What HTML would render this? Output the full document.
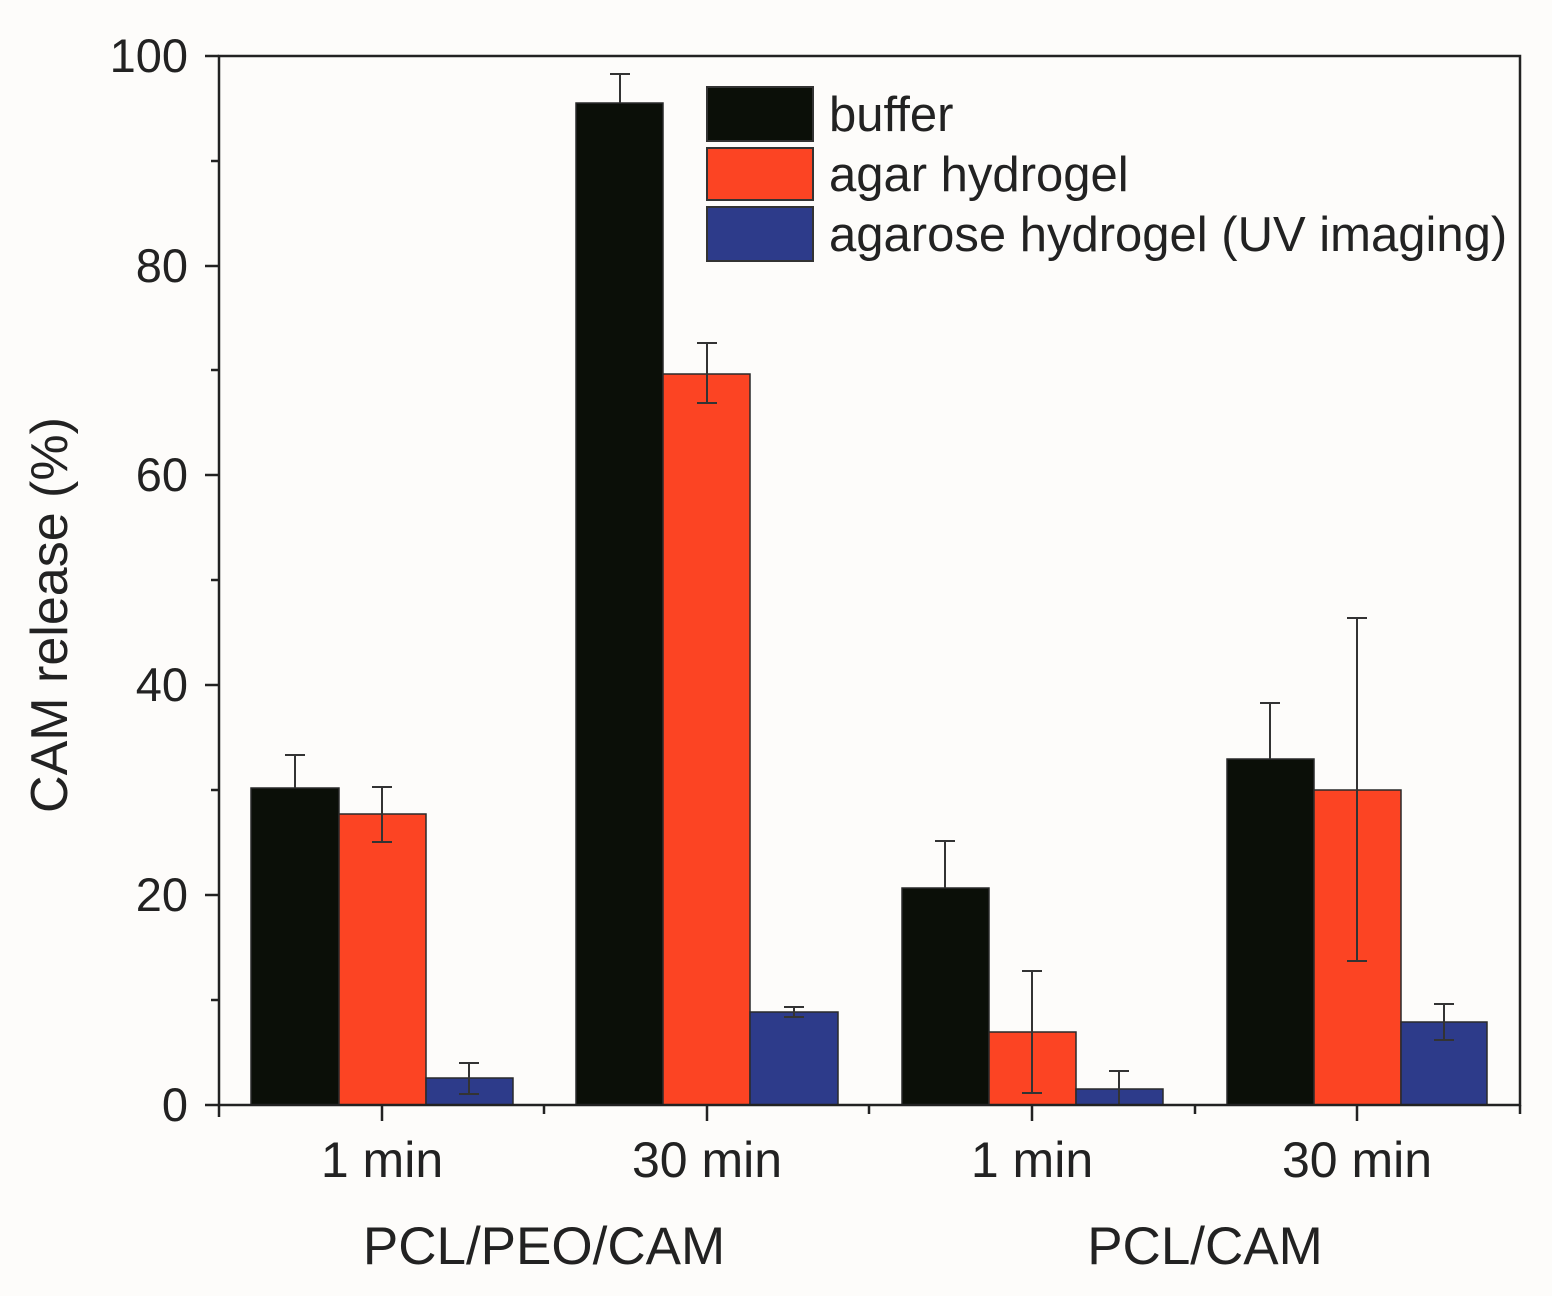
<!DOCTYPE html>
<html><head><meta charset="utf-8"><style>html,body{margin:0;padding:0;background:#fdfcfa;}svg{display:block}</style></head>
<body>
<svg width="1552" height="1296" viewBox="0 0 1552 1296" xmlns="http://www.w3.org/2000/svg" font-family="Liberation Sans, Arial, sans-serif" fill="#222">
<rect width="1552" height="1296" fill="#fdfcfa"/>
<g stroke="#2a2a2a" stroke-width="1.5">
<rect x="251" y="788" width="88" height="317" fill="#0b0f08"/>
<rect x="339" y="814" width="87" height="291" fill="#fc4423"/>
<rect x="426" y="1078" width="87" height="27" fill="#2d3b8a"/>
<rect x="576" y="103" width="87" height="1002" fill="#0b0f08"/>
<rect x="663" y="374" width="87" height="731" fill="#fc4423"/>
<rect x="750" y="1012" width="88" height="93" fill="#2d3b8a"/>
<rect x="902" y="888" width="87" height="217" fill="#0b0f08"/>
<rect x="989" y="1032" width="87" height="73" fill="#fc4423"/>
<rect x="1076" y="1089" width="87" height="16" fill="#2d3b8a"/>
<rect x="1227" y="759" width="87" height="346" fill="#0b0f08"/>
<rect x="1314" y="790" width="87" height="315" fill="#fc4423"/>
<rect x="1401" y="1022" width="86" height="83" fill="#2d3b8a"/>
</g>
<g stroke="#333" stroke-width="2" fill="none">
<path d="M295 788V755M285 755H305"/>
<path d="M382 787V842M372 787H392M372 842H392"/>
<path d="M469 1063V1094M459 1063H479M459 1094H479"/>
<path d="M620 103V74M610 74H630"/>
<path d="M707 343V403M697 343H717M697 403H717"/>
<path d="M794 1007V1017M784 1007H804M784 1017H804"/>
<path d="M945 888V841M935 841H955"/>
<path d="M1032 971V1093M1022 971H1042M1022 1093H1042"/>
<path d="M1119 1071V1104M1109 1071H1129"/>
<path d="M1270 759V703M1260 703H1280"/>
<path d="M1357 618V961M1347 618H1367M1347 961H1367"/>
<path d="M1444 1004V1040M1434 1004H1454M1434 1040H1454"/>
</g>
<g stroke="#222" stroke-width="2.5" fill="none">
<rect x="219" y="56" width="1301" height="1049"/>
<path d="M219 1105V1117 M382 1105V1121 M544 1105V1114 M707 1105V1121 M869 1105V1114 M1032 1105V1121 M1195 1105V1114 M1357 1105V1121 M1520 1105V1114"/>
<path d="M219 1105H205 M219 895H205 M219 685H205 M219 475H205 M219 266H205 M219 56H205 M219 1000H211 M219 790H211 M219 580H211 M219 370H211 M219 161H211"/>
</g>
<g font-size="47" text-anchor="end">
<text x="188" y="1121">0</text>
<text x="188" y="911">20</text>
<text x="188" y="701">40</text>
<text x="188" y="491">60</text>
<text x="188" y="282">80</text>
<text x="188" y="72">100</text>
</g>
<g font-size="50" text-anchor="middle">
<text x="382" y="1177">1 min</text>
<text x="707" y="1177">30 min</text>
<text x="1032" y="1177">1 min</text>
<text x="1357" y="1177">30 min</text>
<text x="544" y="1264" font-size="53">PCL/PEO/CAM</text>
<text x="1205" y="1264" font-size="53">PCL/CAM</text>
<text transform="translate(67 615) rotate(-90)" font-size="52">CAM release (%)</text>
</g>
<g stroke="#333" stroke-width="2">
<rect x="707" y="87" width="106" height="54" fill="#0b0f08"/>
<rect x="707" y="148" width="106" height="52" fill="#fc4423"/>
<rect x="707" y="207" width="106" height="54" fill="#2d3b8a"/>
</g>
<g font-size="49">
<text x="829" y="131">buffer</text>
<text x="829" y="191">agar hydrogel</text>
<text x="829" y="251">agarose hydrogel (UV imaging)</text>
</g>
</svg>
</body></html>
